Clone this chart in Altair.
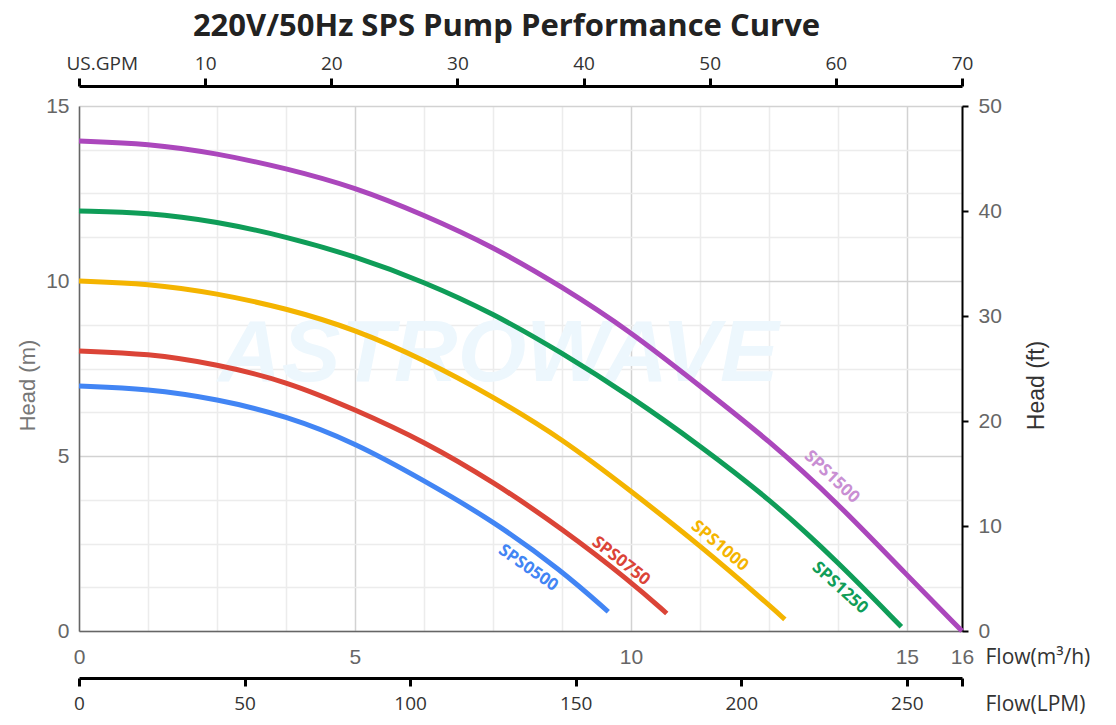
import altair as alt
import pandas as pd

# ---------------- data ----------------
series = ["SPS0500", "SPS0750", "SPS1000", "SPS1250", "SPS1500"]
line_colors = ["#4285F4", "#DB4437", "#F4B400", "#0F9D58", "#AB47BC"]
label_colors = ["#4285F4", "#DB4437", "#F4B400", "#0F9D58", "#C98FD3"]

q_0500 = [0, 1.25, 2.5, 3.75, 5, 6.25, 7.5, 8.75, 9.59]
h_0500 = [7.0, 6.92, 6.63, 6.15, 5.38, 4.3, 3.15, 1.72, 0.55]

q_0750 = [0, 1.25, 2.5, 3.75, 5, 6.25, 7.5, 8.75, 10, 10.65]
h_0750 = [8.0, 7.93, 7.62, 7.14, 6.33, 5.42, 4.27, 2.93, 1.41, 0.5]

q_1000 = [0, 1.25, 2.5, 3.75, 5, 6.25, 7.5, 8.75, 10, 11.25, 12.5, 12.79]
h_1000 = [10.0, 9.93, 9.65, 9.22, 8.62, 7.75, 6.7, 5.5, 4.0, 2.45, 0.75, 0.33]

q_1250 = [0, 1.25, 2.5, 3.75, 5, 6.25, 7.5, 8.75, 10, 11.25, 12.5, 13.75, 14.9]
h_1250 = [12.0, 11.96, 11.7, 11.27, 10.71, 9.98, 9.08, 7.95, 6.7, 5.3, 3.79, 1.98, 0.12]

q_1500 = [0, 1.25, 2.5, 3.75, 5, 6.25, 7.5, 8.75, 10, 11.25, 12.5, 13.75, 15, 16]
h_1500 = [14.0, 13.93, 13.65, 13.22, 12.68, 11.89, 10.98, 9.84, 8.55, 7.0, 5.45, 3.65, 1.6, 0.0]

# curve label annotations (flow m3/h, head m, rotation deg)
label_q = [8.14, 9.82, 11.61, 13.79, 13.64]
label_h = [1.8, 2.0, 2.43, 1.23, 4.4]
label_angle = [35, 38, 40, 42, 43]

# axis tick values
grid_q = [0, 1.25, 2.5, 3.75, 5, 6.25, 7.5, 8.75, 10, 11.25, 12.5, 13.75, 15, 16]
grid_h = [0, 1.25, 2.5, 3.75, 5, 6.25, 7.5, 8.75, 10, 11.25, 12.5, 13.75, 15]
gpm_ticks = [0, 10, 20, 30, 40, 50, 60, 70]
lpm_ticks = [0, 50, 100, 150, 200, 250, 266.667]
ft_ticks = [0, 10, 20, 30, 40, 50]

watermark_text = ["ASTROWAVE"]
watermark_q = [7.6]
watermark_h = [7.9]

# ---------------- tables ----------------
qs = [q_0500, q_0750, q_1000, q_1250, q_1500]
hs = [h_0500, h_0750, h_1000, h_1250, h_1500]
rows = []
for s, ql, hl in zip(series, qs, hs):
    for i, (q, h) in enumerate(zip(ql, hl)):
        rows.append({"series": s, "Q": q, "H": h, "order": i})
curves = pd.DataFrame(rows)

labels = pd.DataFrame({"series": series, "Q": label_q, "H": label_h,
                       "ang": label_angle, "col": label_colors})
wm = pd.DataFrame({"txt": watermark_text, "Q": watermark_q, "H": watermark_h})


def cond(test, a, b):
    return {"condition": {"test": test, "value": a}, "value": b}


MONT = "Open Sans"
ARIAL = "Liberation Sans"

x_q = alt.X(
    "Q:Q",
    scale=alt.Scale(domain=[0, 16], nice=False, zero=False),
    axis=alt.Axis(
        values=grid_q, tickSize=0, domainColor="#666", domainWidth=1.5, format="~g",
        grid=True, gridColor=cond("datum.value % 5 == 0", "#d2d2d2", "#ececec"), gridWidth=1.5,
        labelExpr="(datum.value % 5 == 0 || datum.value == 16) ? datum.label : ''",
        labelFont=ARIAL, labelFontSize=21, labelColor="#666", labelPadding=15,
        labelFlush=False,
        title="Flow(m³/h)", titleFont=MONT, titleFontSize=21, titleFontWeight="normal",
        titleColor="#333", titleX=906, titleY=26, titleAlign="left", titleBaseline="middle",
        titleAngle=0,
    ),
)
y_h = alt.Y(
    "H:Q",
    scale=alt.Scale(domain=[0, 15], nice=False, zero=True),
    axis=alt.Axis(
        values=grid_h, tickSize=0, domainColor="#666", domainWidth=1.5,
        grid=True, gridColor=cond("datum.value % 5 == 0", "#d2d2d2", "#ececec"), gridWidth=1.5,
        labelExpr="datum.value % 5 == 0 ? datum.label : ''",
        labelFont=ARIAL, labelFontSize=21, labelColor="#666", labelPadding=10,
        title="Head (m)", titleFont=ARIAL, titleFontSize=22, titleFontWeight="normal",
        titleColor="#777", titleX=-52, titleY=279, titleAngle=270,
        titleAlign="center", titleBaseline="middle",
    ),
)

watermark = alt.Chart(wm).mark_text(
    font=ARIAL, fontStyle="italic", fontWeight="bold", fontSize=88, color="#edf7fd"
).encode(x=x_q, y=y_h, text="txt:N")

lines = alt.Chart(curves).mark_line(strokeWidth=5, interpolate="basis").encode(
    x=x_q, y=y_h,
    color=alt.Color("series:N", scale=alt.Scale(domain=series, range=line_colors), legend=None),
    order="order:Q",
)

curve_labels = alt.Chart(labels).mark_text(
    font=MONT, fontWeight="bold", fontSize=17
).encode(
    x=x_q, y=y_h, text="series:N",
    angle=alt.Angle("ang:Q", scale=None),
    color=alt.Color("col:N", scale=None),
)

inner = alt.layer(watermark, lines, curve_labels)

gpm = alt.Chart(pd.DataFrame({"gpm": gpm_ticks})).mark_point(opacity=0).encode(
    x=alt.X("gpm:Q", scale=alt.Scale(domain=[0, 70], nice=False, zero=False),
            axis=alt.Axis(orient="top", offset=20, values=gpm_ticks, grid=False,
                          domainColor="#000", domainWidth=3, tickColor="#000", tickWidth=3,
                          tickSize=8, labelFont=MONT, labelFontSize=19, labelColor="#333",
                          labelPadding=5, labelFlush=False,
                          labelExpr="datum.value == 0 ? 'US.GPM' : datum.label",
                          labelAlign=cond("datum.value == 0", "left", "center"),
                          labelOffset=cond("datum.value == 0", -13, 0),
                          title=None))
)

lpm = alt.Chart(pd.DataFrame({"lpm": lpm_ticks})).mark_point(opacity=0).encode(
    x=alt.X("lpm:Q", scale=alt.Scale(domain=[0, 266.667], nice=False, zero=False),
            axis=alt.Axis(orient="bottom", offset=47, values=lpm_ticks, grid=False,
                          domainColor="#000", domainWidth=3, tickColor="#000", tickWidth=3,
                          tickSize=8, labelFont=MONT, labelFontSize=19, labelColor="#333",
                          labelPadding=8, labelFlush=False,
                          labelExpr="datum.value > 260 ? '' : datum.label",
                          title="Flow(LPM)", titleFont=MONT, titleFontSize=21,
                          titleFontWeight="normal", titleColor="#333", titleX=906, titleY=26,
                          titleAlign="left", titleBaseline="middle", titleAngle=0))
)

ft = alt.Chart(pd.DataFrame({"ft": ft_ticks})).mark_point(opacity=0).encode(
    y=alt.Y("ft:Q", scale=alt.Scale(domain=[0, 50], nice=False, zero=True),
            axis=alt.Axis(orient="right", values=ft_ticks, grid=False,
                          domainColor="#000", domainWidth=2, tickColor="#000", tickWidth=2,
                          tickSize=6, labelFont=ARIAL, labelFontSize=21, labelColor="#666",
                          labelPadding=10,
                          title="Head (ft)", titleFont=ARIAL, titleFontSize=23,
                          titleFontWeight="normal", titleColor="#333",
                          titleX=74, titleY=279, titleAngle=270,
                          titleAlign="center", titleBaseline="middle"))
)

chart = alt.layer(inner, gpm, lpm, ft).resolve_scale(
    x="independent", y="independent"
).properties(
    width=883, height=525,
    autosize=alt.AutoSizeParams(type="none"),
    padding={"left": 79, "top": 106, "right": 154, "bottom": 94},
    title=alt.TitleParams("220V/50Hz SPS Pump Performance Curve", font=MONT, fontSize=31,
                          fontWeight="bold", color="#222", anchor="middle", dx=-14, offset=11),
    background="white",
).configure_view(strokeWidth=0)

chart.save("out.html", embed_options={"renderer": "svg", "actions": False})
